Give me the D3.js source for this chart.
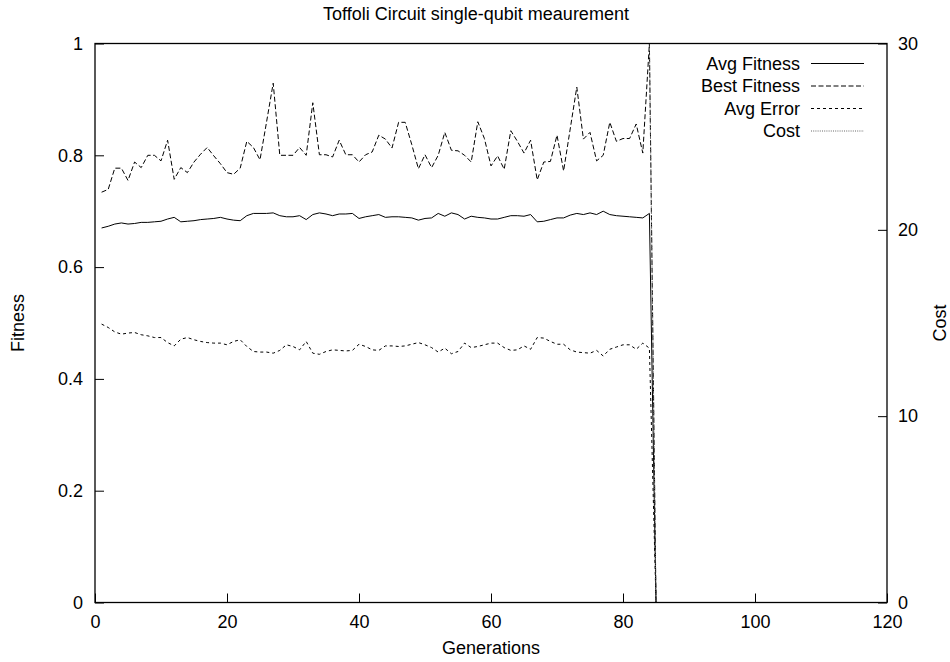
<!DOCTYPE html>
<html>
<head>
<meta charset="utf-8">
<script src="https://cdn.jsdelivr.net/npm/d3@7"></script>
<style>
  body { margin: 0; background: #fff; }
  text { font-family: "Liberation Sans", Arial, sans-serif; fill: #000; }
</style>
</head>
<body>
<div id="chart"></div>
<script>
// Generations 1..85
const generations = d3.range(1, 86);

const avgFitness = [
  0.670, 0.673, 0.677, 0.679, 0.677, 0.678, 0.680, 0.680, 0.681, 0.682,
  0.686, 0.689, 0.681, 0.682, 0.683, 0.685, 0.686, 0.687, 0.689, 0.686,
  0.684, 0.683, 0.692, 0.696, 0.696, 0.696, 0.697, 0.692, 0.690, 0.690,
  0.692, 0.685, 0.694, 0.697, 0.695, 0.692, 0.695, 0.695, 0.696, 0.687,
  0.690, 0.692, 0.694, 0.689, 0.690, 0.690, 0.689, 0.688, 0.684, 0.687,
  0.688, 0.696, 0.691, 0.697, 0.694, 0.686, 0.691, 0.689, 0.688, 0.686,
  0.686, 0.689, 0.692, 0.692, 0.691, 0.694, 0.681, 0.682, 0.685, 0.688,
  0.688, 0.693, 0.696, 0.694, 0.697, 0.694, 0.700, 0.694, 0.692, 0.691,
  0.690, 0.689, 0.688, 0.696, 0
];

const bestFitness = [
  0.734, 0.739, 0.777, 0.777, 0.755, 0.788, 0.778, 0.800, 0.800, 0.790,
  0.827, 0.757, 0.778, 0.769, 0.788, 0.802, 0.814, 0.799, 0.785, 0.769,
  0.766, 0.777, 0.825, 0.814, 0.792, 0.860, 0.929, 0.800, 0.800, 0.800,
  0.814, 0.800, 0.894, 0.801, 0.801, 0.797, 0.827, 0.801, 0.801, 0.788,
  0.801, 0.806, 0.836, 0.829, 0.813, 0.859, 0.859, 0.819, 0.776, 0.801,
  0.778, 0.800, 0.841, 0.809, 0.808, 0.800, 0.788, 0.860, 0.830, 0.781,
  0.799, 0.775, 0.844, 0.825, 0.804, 0.827, 0.756, 0.788, 0.789, 0.836,
  0.772, 0.847, 0.922, 0.829, 0.841, 0.790, 0.800, 0.859, 0.825, 0.830,
  0.830, 0.856, 0.804, 1.000, 0
];

const avgError = [
  0.498, 0.492, 0.484, 0.480, 0.482, 0.483, 0.479, 0.477, 0.474, 0.474,
  0.465, 0.459, 0.471, 0.474, 0.470, 0.467, 0.465, 0.464, 0.464, 0.461,
  0.467, 0.470, 0.458, 0.449, 0.448, 0.448, 0.446, 0.451, 0.461, 0.458,
  0.452, 0.467, 0.446, 0.444, 0.449, 0.452, 0.451, 0.450, 0.451, 0.462,
  0.458, 0.452, 0.451, 0.459, 0.459, 0.458, 0.459, 0.462, 0.465, 0.461,
  0.456, 0.448, 0.455, 0.445, 0.449, 0.464, 0.456, 0.458, 0.461, 0.464,
  0.464, 0.456, 0.451, 0.452, 0.459, 0.453, 0.474, 0.473, 0.467, 0.462,
  0.462, 0.452, 0.448, 0.447, 0.446, 0.451, 0.441, 0.453, 0.457, 0.461,
  0.461, 0.453, 0.464, 0.455, 0
];

const cost = [
  30, 30, 30, 30, 30, 30, 30, 30, 30, 30,
  30, 30, 30, 30, 30, 30, 30, 30, 30, 30,
  30, 30, 30, 30, 30, 30, 30, 30, 30, 30,
  30, 30, 30, 30, 30, 30, 30, 30, 30, 30,
  30, 30, 30, 30, 30, 30, 30, 30, 30, 30,
  30, 30, 30, 30, 30, 30, 30, 30, 30, 30,
  30, 30, 30, 30, 30, 30, 30, 30, 30, 30,
  30, 30, 30, 30, 30, 30, 30, 30, 30, 30,
  30, 30, 30, 30, 0
];

const xTicks = [0, 20, 40, 60, 80, 100, 120];
const yTicks = [0, 0.2, 0.4, 0.6, 0.8, 1];
const y2Ticks = [0, 10, 20, 30];

const W = 950, H = 662;
const fontSize = 18;
const margin = { top: 43.5, right: 63, bottom: 59.5, left: 95 };

const svg = d3.select("#chart").append("svg")
  .attr("width", W)
  .attr("height", H);

// Scales
const x = d3.scaleLinear().domain([0, 120]).range([margin.left, W - margin.right]);
const y = d3.scaleLinear().domain([0, 1]).range([H - margin.bottom, margin.top]);
const y2 = d3.scaleLinear().domain([0, 30]).range([H - margin.bottom, margin.top]);

// Clip to plot area
svg.append("clipPath").attr("id", "clip")
  .append("rect")
  .attr("x", x(0)).attr("y", y(1) - 1)
  .attr("width", x(120) - x(0)).attr("height", y(0) - y(1) + 2);

// Axes (ticks point inward)
const fmt = d3.format("~g");
const styleAxis = g => {
  g.select(".domain").remove();
  g.selectAll("line").attr("stroke", "#000").attr("stroke-width", 1);
  g.selectAll("text").attr("font-size", fontSize).attr("font-family", null);
};

svg.append("g")
  .attr("transform", `translate(0,${y(0)})`)
  .call(d3.axisBottom(x).tickValues(xTicks).tickFormat(fmt).tickSizeInner(-9).tickSizeOuter(0).tickPadding(12.5))
  .call(styleAxis);

svg.append("g")
  .attr("transform", `translate(${x(0)},0)`)
  .call(d3.axisLeft(y).tickValues(yTicks).tickFormat(fmt).tickSizeInner(-9).tickSizeOuter(0).tickPadding(12))
  .call(styleAxis);

svg.append("g")
  .attr("transform", `translate(${x(120)},0)`)
  .call(d3.axisRight(y2).tickValues(y2Ticks).tickFormat(fmt).tickSizeInner(-9).tickSizeOuter(0).tickPadding(11))
  .call(styleAxis);

// Series
const series = [
  { name: "Avg Fitness", values: avgFitness, scale: y, color: "#000", dash: null },
  { name: "Best Fitness", values: bestFitness, scale: y, color: "#000", dash: "5,2.5" },
  { name: "Avg Error", values: avgError, scale: y, color: "#000", dash: "3,3" },
  { name: "Cost", values: cost, scale: y2, color: "#666", dash: "1,1.2" }
];

const plot = svg.append("g").attr("clip-path", "url(#clip)");

series.forEach(s => {
  const line = d3.line()
    .x((d, i) => x(generations[i]))
    .y(d => s.scale(d));
  plot.append("path")
    .attr("d", line(s.values))
    .attr("fill", "none")
    .attr("stroke", s.color)
    .attr("stroke-width", 1)
    .attr("stroke-dasharray", s.dash);
});

// Frame
svg.append("rect")
  .attr("x", x(0)).attr("y", y(1))
  .attr("width", x(120) - x(0)).attr("height", y(0) - y(1))
  .attr("fill", "none")
  .attr("stroke", "#000")
  .attr("stroke-width", 1.3);

// Legend
const legend = svg.append("g");
series.forEach((s, i) => {
  const ly = 63.5 + i * 22.5;
  legend.append("text")
    .attr("x", 800).attr("y", ly)
    .attr("dy", "0.35em")
    .attr("text-anchor", "end")
    .attr("font-size", fontSize)
    .text(s.name);
  legend.append("line")
    .attr("x1", 811).attr("x2", 864)
    .attr("y1", ly).attr("y2", ly)
    .attr("stroke", s.color)
    .attr("stroke-width", 1)
    .attr("stroke-dasharray", s.dash);
});

// Titles
svg.append("text")
  .attr("x", 476).attr("y", 20)
  .attr("text-anchor", "middle")
  .attr("font-size", fontSize)
  .text("Toffoli Circuit single-qubit meaurement");

svg.append("text")
  .attr("x", (x(0) + x(120)) / 2).attr("y", 654)
  .attr("text-anchor", "middle")
  .attr("font-size", fontSize)
  .text("Generations");

svg.append("text")
  .attr("transform", `translate(24,${(y(0) + y(1)) / 2}) rotate(-90)`)
  .attr("text-anchor", "middle")
  .attr("font-size", fontSize)
  .text("Fitness");

svg.append("text")
  .attr("transform", `translate(946,${(y(0) + y(1)) / 2}) rotate(-90)`)
  .attr("text-anchor", "middle")
  .attr("font-size", fontSize)
  .text("Cost");
</script>
</body>
</html>
